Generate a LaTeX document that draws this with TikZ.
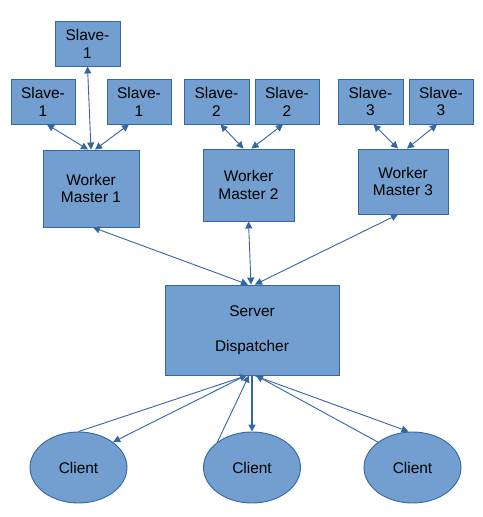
\documentclass[tikz,border=0pt]{standalone}
\usepackage{fontspec}
\setmainfont{Liberation Sans}
\usepackage{tikz}
\usetikzlibrary{arrows.meta,shapes.geometric}
\definecolor{boxfill}{HTML}{729FCF}
\definecolor{boxline}{HTML}{3465A4}
\tikzset{box/.style={rectangle,draw=boxline,fill=boxfill,line width=0.9bp,inner sep=0pt,align=center,
                     font=\fontsize{15.5}{18}\selectfont},
         client/.style={ellipse,draw=boxline,fill=boxfill,line width=0.9bp,inner sep=0pt,
                     minimum width=97bp,minimum height=71bp,font=\fontsize{15.5}{18}\selectfont},
         link/.style={boxline,line width=0.9bp,-{Triangle[length=7bp,width=7bp]}},
         both/.style={boxline,line width=0.9bp,{Triangle[length=7bp,width=7bp]}-{Triangle[length=7bp,width=7bp]}}}
\begin{document}
\begin{tikzpicture}[x=1bp,y=-1bp]
                                     \useasboundingbox (0,0) rectangle (483,517);
                                     \node[box,minimum width=65bp,minimum height=45bp](s1t)at(87.5,43.5){Slave-\\1};
                                     \node[box,minimum width=64bp,minimum height=45bp](s1a)at(43,101.5){Slave-\\1};
                                     \node[box,minimum width=64bp,minimum height=45bp](s1b)at(139,101.5){Slave-\\1};
                                     \node[box,minimum width=65bp,minimum height=45bp](s2a)at(216.5,101.5){Slave-\\2};
                                     \node[box,minimum width=64bp,minimum height=45bp](s2b)at(287,101.5){Slave-\\2};
                                     \node[box,minimum width=65bp,minimum height=45bp](s3a)at(370.5,101.5){Slave-\\3};
                                     \node[box,minimum width=64bp,minimum height=45bp](s3b)at(441,101.5){Slave-\\3};
                                     \node[box,minimum width=96bp,minimum height=77bp](wm1)at(91,188.5){Worker\\Master 1};
                                     \node[box,minimum width=91bp,minimum height=72bp](wm2)at(248.5,185){Worker\\Master 2};
                                     \node[box,minimum width=90bp,minimum height=65bp](wm3)at(403,181.5){Worker\\Master 3};
                                     \node[box,minimum width=174bp,minimum height=90bp](srv)at(252,330){Server\\[17bp]Dispatcher};
                                     \node[client](c1)at(78.5,467.5){Client};
                                     \node[client](c2)at(252,467.5){Client};
                                     \node[client](c3)at(412.5,467.5){Client};
                                     \draw[both] (s1t.south) -- (wm1.north);
                                     \draw[both] ([xshift=4bp]s1a.south) -- ([xshift=-3bp]wm1.north);
                                     \draw[both] ([xshift=-10bp]s1b.south) -- ([xshift=4bp]wm1.north);
                                     \draw[both] ([xshift=4bp]s2a.south) -- ([xshift=-5bp]wm2.north);
                                     \draw[both] ([xshift=-4bp]s2b.south) -- ([xshift=3bp]wm2.north);
                                     \draw[both] ([xshift=3bp]s3a.south) -- ([xshift=-5bp]wm3.north);
                                     \draw[both] ([xshift=-4bp]s3b.south) -- ([xshift=4bp]wm3.north);
                                     \draw[both] ([xshift=2bp]wm1.south) -- ([xshift=-4bp]srv.north);
                                     \draw[both] (wm2.south) -- ([xshift=-1bp]srv.north);
                                     \draw[both] ([xshift=-5bp]wm3.south) -- ([xshift=3bp]srv.north);
                                     \draw[link] (c1.north) -- ([xshift=-5bp]srv.south);
                                     \draw[link] ([xshift=-6bp]srv.south) -- (c1.north east);
                                     \draw[link] (c2.north west) -- ([xshift=-3bp]srv.south);
                                     \draw[link,line width=1.6bp] (srv.south) -- (c2.north);
                                     \draw[link] (c3.north west) -- ([xshift=4bp]srv.south);
                                     \draw[link] ([xshift=2bp]srv.south) -- ([xshift=-4bp]c3.north);
                                 \end{tikzpicture}
\end{document}
